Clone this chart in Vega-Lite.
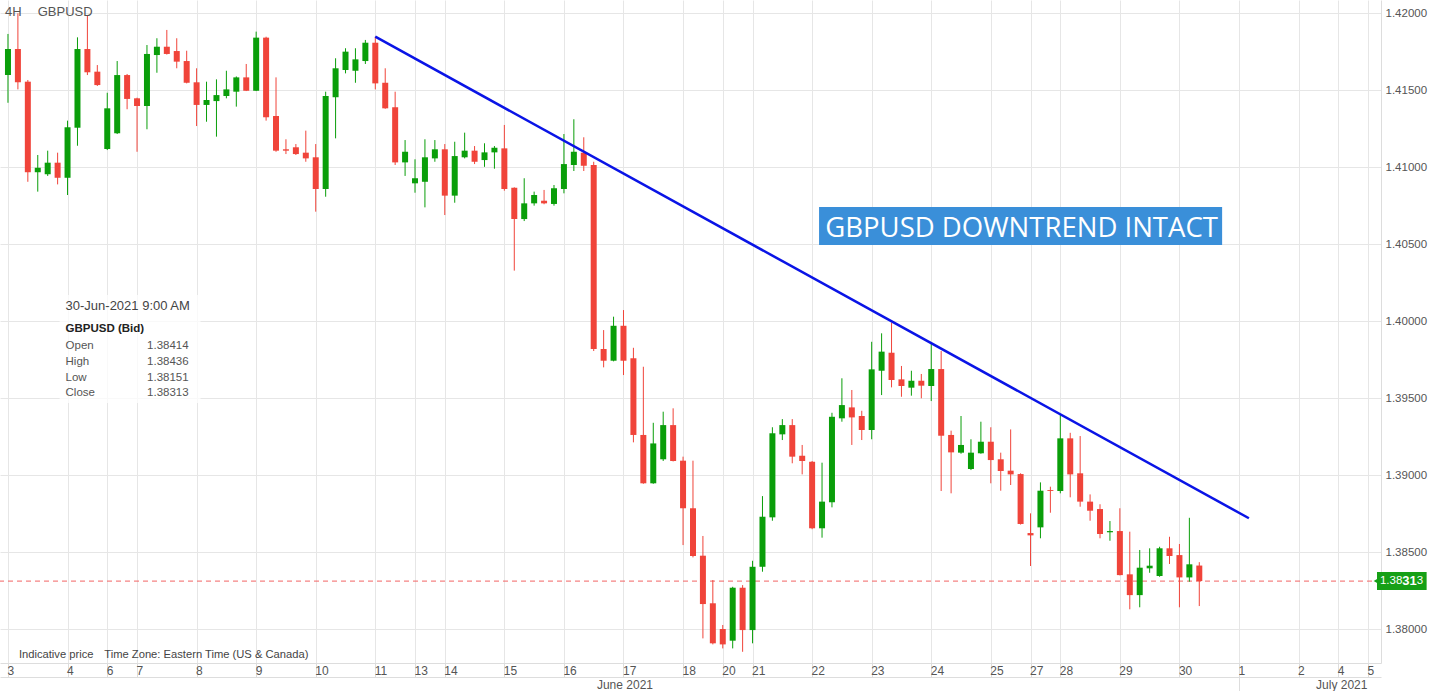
{
  "$schema": "https://vega.github.io/schema/vega-lite/v6.json",
  "width": 1381,
  "height": 663,
  "autosize": "none",
  "padding": {"left": 0, "top": 0, "right": 49, "bottom": 28},
  "background": "white",
  "config": {"view": {"stroke": null}, "font": "Liberation Sans"},
  "datasets": {
    "candles": [
      {"i":0,"o":1.41599,"h":1.41866,"l":1.41419,"c":1.41768},
      {"i":1,"o":1.41768,"h":1.42000,"l":1.41506,"c":1.41552},
      {"i":2,"o":1.41556,"h":1.41567,"l":1.40906,"c":1.40968},
      {"i":3,"o":1.40968,"h":1.41080,"l":1.40842,"c":1.40997},
      {"i":4,"o":1.40955,"h":1.41108,"l":1.40944,"c":1.41030},
      {"i":5,"o":1.41030,"h":1.41095,"l":1.40889,"c":1.40932},
      {"i":6,"o":1.40932,"h":1.41303,"l":1.40820,"c":1.41260},
      {"i":7,"o":1.41257,"h":1.41844,"l":1.41140,"c":1.41768},
      {"i":8,"o":1.41768,"h":1.41989,"l":1.41599,"c":1.41617},
      {"i":9,"o":1.41621,"h":1.41664,"l":1.41528,"c":1.41534},
      {"i":10,"o":1.41119,"h":1.41484,"l":1.41112,"c":1.41383},
      {"i":11,"o":1.41221,"h":1.41690,"l":1.41216,"c":1.41599},
      {"i":12,"o":1.41599,"h":1.41606,"l":1.41377,"c":1.41444},
      {"i":13,"o":1.41448,"h":1.41452,"l":1.41101,"c":1.41398},
      {"i":14,"o":1.41398,"h":1.41794,"l":1.41247,"c":1.41736},
      {"i":15,"o":1.41729,"h":1.41838,"l":1.41614,"c":1.41783},
      {"i":16,"o":1.41783,"h":1.41892,"l":1.41732,"c":1.41736},
      {"i":17,"o":1.41755,"h":1.41838,"l":1.41643,"c":1.41686},
      {"i":18,"o":1.41690,"h":1.41757,"l":1.41545,"c":1.41549},
      {"i":19,"o":1.41552,"h":1.41643,"l":1.41268,"c":1.41405},
      {"i":20,"o":1.41405,"h":1.41556,"l":1.41296,"c":1.41437},
      {"i":21,"o":1.41430,"h":1.41571,"l":1.41199,"c":1.41469},
      {"i":22,"o":1.41463,"h":1.41627,"l":1.41448,"c":1.41506},
      {"i":23,"o":1.41491,"h":1.41590,"l":1.41394,"c":1.41584},
      {"i":24,"o":1.41584,"h":1.41671,"l":1.41495,"c":1.41497},
      {"i":25,"o":1.41497,"h":1.41881,"l":1.41495,"c":1.41842},
      {"i":26,"o":1.41842,"h":1.41848,"l":1.41303,"c":1.41325},
      {"i":27,"o":1.41333,"h":1.41584,"l":1.41101,"c":1.41108},
      {"i":28,"o":1.41117,"h":1.41182,"l":1.41086,"c":1.41108},
      {"i":29,"o":1.41130,"h":1.41151,"l":1.41080,"c":1.41086},
      {"i":30,"o":1.41095,"h":1.41238,"l":1.41036,"c":1.41058},
      {"i":31,"o":1.41065,"h":1.41151,"l":1.40712,"c":1.40859},
      {"i":32,"o":1.40859,"h":1.41491,"l":1.40809,"c":1.41463},
      {"i":33,"o":1.41455,"h":1.41708,"l":1.41188,"c":1.41643},
      {"i":34,"o":1.41632,"h":1.41773,"l":1.41610,"c":1.41751},
      {"i":35,"o":1.41627,"h":1.41773,"l":1.41549,"c":1.41701},
      {"i":36,"o":1.41690,"h":1.41827,"l":1.41671,"c":1.41809},
      {"i":37,"o":1.41809,"h":1.41848,"l":1.41506,"c":1.41545},
      {"i":38,"o":1.41549,"h":1.41643,"l":1.41380,"c":1.41383},
      {"i":39,"o":1.41390,"h":1.41491,"l":1.41015,"c":1.41032},
      {"i":40,"o":1.41032,"h":1.41177,"l":1.40944,"c":1.41101},
      {"i":41,"o":1.40896,"h":1.41052,"l":1.40835,"c":1.40929},
      {"i":42,"o":1.40906,"h":1.41182,"l":1.40740,"c":1.41065},
      {"i":43,"o":1.41058,"h":1.41177,"l":1.41036,"c":1.41117},
      {"i":44,"o":1.41117,"h":1.41151,"l":1.40690,"c":1.40816},
      {"i":45,"o":1.40816,"h":1.41166,"l":1.40770,"c":1.41073},
      {"i":46,"o":1.41065,"h":1.41225,"l":1.41058,"c":1.41108},
      {"i":47,"o":1.41108,"h":1.41138,"l":1.41021,"c":1.41036},
      {"i":48,"o":1.41047,"h":1.41156,"l":1.41003,"c":1.41097},
      {"i":49,"o":1.41097,"h":1.41138,"l":1.40991,"c":1.41127},
      {"i":50,"o":1.41123,"h":1.41275,"l":1.40848,"c":1.40859},
      {"i":51,"o":1.40868,"h":1.40870,"l":1.40329,"c":1.40664},
      {"i":52,"o":1.40664,"h":1.40929,"l":1.40651,"c":1.40766},
      {"i":53,"o":1.40766,"h":1.40842,"l":1.40751,"c":1.40820},
      {"i":54,"o":1.40783,"h":1.40853,"l":1.40760,"c":1.40766},
      {"i":55,"o":1.40762,"h":1.40885,"l":1.40751,"c":1.40864},
      {"i":56,"o":1.40859,"h":1.41216,"l":1.40831,"c":1.41021},
      {"i":57,"o":1.41015,"h":1.41312,"l":1.40976,"c":1.41101},
      {"i":58,"o":1.41095,"h":1.41195,"l":1.40976,"c":1.41010},
      {"i":59,"o":1.41015,"h":1.41036,"l":1.39807,"c":1.39820},
      {"i":60,"o":1.39820,"h":1.39943,"l":1.39701,"c":1.39744},
      {"i":61,"o":1.39744,"h":1.40030,"l":1.39740,"c":1.39971},
      {"i":62,"o":1.39971,"h":1.40073,"l":1.39651,"c":1.39744},
      {"i":63,"o":1.39760,"h":1.39828,"l":1.39214,"c":1.39262},
      {"i":64,"o":1.39262,"h":1.39705,"l":1.38945,"c":1.38948},
      {"i":65,"o":1.38948,"h":1.39341,"l":1.38945,"c":1.39207},
      {"i":66,"o":1.39104,"h":1.39413,"l":1.39093,"c":1.39326},
      {"i":67,"o":1.39326,"h":1.39435,"l":1.39090,"c":1.39093},
      {"i":68,"o":1.39095,"h":1.39121,"l":1.38547,"c":1.38786},
      {"i":69,"o":1.38786,"h":1.39095,"l":1.38467,"c":1.38476},
      {"i":70,"o":1.38478,"h":1.38606,"l":1.37941,"c":1.38164},
      {"i":71,"o":1.38169,"h":1.38320,"l":1.37902,"c":1.37909},
      {"i":72,"o":1.38002,"h":1.38028,"l":1.37876,"c":1.37902},
      {"i":73,"o":1.37926,"h":1.38276,"l":1.37876,"c":1.38270},
      {"i":74,"o":1.38270,"h":1.38287,"l":1.37854,"c":1.37995},
      {"i":75,"o":1.37995,"h":1.38445,"l":1.37909,"c":1.38406},
      {"i":76,"o":1.38406,"h":1.38865,"l":1.38374,"c":1.38731},
      {"i":77,"o":1.38727,"h":1.39312,"l":1.38705,"c":1.39273},
      {"i":78,"o":1.39266,"h":1.39365,"l":1.39229,"c":1.39326},
      {"i":79,"o":1.39326,"h":1.39365,"l":1.39078,"c":1.39121},
      {"i":80,"o":1.39127,"h":1.39197,"l":1.39006,"c":1.39093},
      {"i":81,"o":1.39088,"h":1.39093,"l":1.38650,"c":1.38656},
      {"i":82,"o":1.38656,"h":1.39082,"l":1.38595,"c":1.38829},
      {"i":83,"o":1.38825,"h":1.39406,"l":1.38792,"c":1.39380},
      {"i":84,"o":1.39370,"h":1.39630,"l":1.39348,"c":1.39456},
      {"i":85,"o":1.39441,"h":1.39554,"l":1.39197,"c":1.39376},
      {"i":86,"o":1.39385,"h":1.39419,"l":1.39229,"c":1.39294},
      {"i":87,"o":1.39294,"h":1.39867,"l":1.39234,"c":1.39688},
      {"i":88,"o":1.39679,"h":1.39922,"l":1.39521,"c":1.39803},
      {"i":89,"o":1.39796,"h":1.39991,"l":1.39571,"c":1.39619},
      {"i":90,"o":1.39623,"h":1.39710,"l":1.39510,"c":1.39580},
      {"i":91,"o":1.39569,"h":1.39679,"l":1.39517,"c":1.39614},
      {"i":92,"o":1.39614,"h":1.39658,"l":1.39500,"c":1.39582},
      {"i":93,"o":1.39580,"h":1.39857,"l":1.39482,"c":1.39690},
      {"i":94,"o":1.39690,"h":1.39807,"l":1.38898,"c":1.39257},
      {"i":95,"o":1.39262,"h":1.39290,"l":1.38883,"c":1.39149},
      {"i":96,"o":1.39147,"h":1.39385,"l":1.39140,"c":1.39197},
      {"i":97,"o":1.39041,"h":1.39234,"l":1.39034,"c":1.39147},
      {"i":98,"o":1.39143,"h":1.39348,"l":1.39140,"c":1.39218},
      {"i":99,"o":1.39218,"h":1.39312,"l":1.38948,"c":1.39099},
      {"i":100,"o":1.39104,"h":1.39147,"l":1.38900,"c":1.39028},
      {"i":101,"o":1.39030,"h":1.39298,"l":1.38937,"c":1.39006},
      {"i":102,"o":1.39008,"h":1.39013,"l":1.38680,"c":1.38684},
      {"i":103,"o":1.38625,"h":1.38753,"l":1.38411,"c":1.38610},
      {"i":104,"o":1.38662,"h":1.38954,"l":1.38591,"c":1.38900},
      {"i":105,"o":1.38904,"h":1.38926,"l":1.38757,"c":1.38898},
      {"i":106,"o":1.38898,"h":1.39391,"l":1.38883,"c":1.39240},
      {"i":107,"o":1.39240,"h":1.39276,"l":1.38857,"c":1.39006},
      {"i":108,"o":1.39013,"h":1.39255,"l":1.38796,"c":1.38829},
      {"i":109,"o":1.38829,"h":1.38876,"l":1.38705,"c":1.38770},
      {"i":110,"o":1.38781,"h":1.38812,"l":1.38591,"c":1.38619},
      {"i":111,"o":1.38630,"h":1.38703,"l":1.38575,"c":1.38638},
      {"i":112,"o":1.38638,"h":1.38786,"l":1.38350,"c":1.38352},
      {"i":113,"o":1.38357,"h":1.38634,"l":1.38130,"c":1.38222},
      {"i":114,"o":1.38222,"h":1.38515,"l":1.38143,"c":1.38400},
      {"i":115,"o":1.38396,"h":1.38526,"l":1.38367,"c":1.38413},
      {"i":116,"o":1.38346,"h":1.38536,"l":1.38341,"c":1.38526},
      {"i":117,"o":1.38526,"h":1.38601,"l":1.38424,"c":1.38476},
      {"i":118,"o":1.38482,"h":1.38554,"l":1.38143,"c":1.38337},
      {"i":119,"o":1.38337,"h":1.38724,"l":1.38309,"c":1.38422},
      {"i":120,"o":1.38414,"h":1.38436,"l":1.38151,"c":1.38313}
    ],
    "trend": [
      {"i": 37, "price": 1.41848},
      {"i": 125, "price": 1.38721}
    ],
    "last": [
      {"price": 1.38313, "label": "1.38313", "head": "1.38", "pips": "31", "tail": "3"}
    ]
  },
  "resolve": {"axis": {"x": "independent"}},
  "layer": [
    {
      "data": {"name": "last"},
      "mark": {"type": "rule", "color": "#f26464", "strokeDash": [5, 4], "strokeWidth": 1},
      "encoding": {
        "y": {"field": "price", "type": "quantitative", "scale": {"domain": [1.377812, 1.420864], "nice": false, "zero": false},
          "axis": {
            "orient": "right",
            "values": [1.38, 1.385, 1.39, 1.395, 1.40, 1.405, 1.41, 1.415, 1.42],
            "format": ".5f", "title": null, "grid": true, "gridColor": "#e6e6e6",
            "ticks": false, "domain": true, "domainColor": "#dddddd",
            "labelPadding": 4, "labelFontSize": 11.5, "labelColor": "#555555", "labelFont": "Liberation Sans",
            "labelBaseline": "middle", "labelFlush": false, "labelOverlap": false, "labelBound": false
          }
        }
      }
    },
    {
      "data": {"name": "candles"},
      "mark": {"type": "rule", "strokeWidth": 1},
      "encoding": {
        "x": {"field": "i", "type": "quantitative", "scale": {"domain": [-0.3, 137.8], "nice": false, "zero": false},
          "axis": {
            "orient": "bottom",
            "values": [0,6,10,13,19,25,31,37,41,44,50,56,62,68,72,75,81,87,93,99,103,106,112,118,124,130,134,137],
            "labelExpr": "['3','4','6','7','8','9','10','11','13','14','15','16','17','18','20','21','22','23','24','25','27','28','29','30','1','2','4','5'][indexof([0,6,10,13,19,25,31,37,41,44,50,56,62,68,72,75,81,87,93,99,103,106,112,118,124,130,134,137], datum.value)]",
            "title": null, "grid": true, "gridColor": "#e6e6e6", "gridWidth": 1,
            "ticks": true, "tickSize": 14, "tickColor": "#dddddd",
            "domain": true, "domainColor": "#dddddd",
            "labelAlign": "left", "labelBaseline": "middle", "labelPadding": -7, "labelOffset": -1,
            "labelFontSize": 12, "labelColor": "#555555", "labelFont": "Liberation Sans",
            "labelFlush": false, "labelOverlap": false, "labelBound": false
          }
        },
        "y": {"field": "l", "type": "quantitative", "scale": {"domain": [1.377812, 1.420864], "nice": false, "zero": false}},
        "y2": {"field": "h"},
        "color": {"condition": {"test": "datum.c >= datum.o", "value": "#0a9e0a"}, "value": "#f0443a"}
      }
    },
    {
      "data": {"name": "candles"},
      "mark": {"type": "bar", "size": 6},
      "encoding": {
        "x": {"field": "i", "type": "quantitative", "scale": {"domain": [-0.3, 137.8], "nice": false, "zero": false}, "axis": null},
        "y": {"field": "o", "type": "quantitative", "scale": {"domain": [1.377812, 1.420864], "nice": false, "zero": false}},
        "y2": {"field": "c"},
        "color": {"condition": {"test": "datum.c >= datum.o", "value": "#0a9e0a"}, "value": "#f0443a"}
      }
    },
    {
      "data": {"name": "trend"},
      "mark": {"type": "line", "color": "#0a14e6", "strokeWidth": 2.5},
      "encoding": {
        "x": {"field": "i", "type": "quantitative", "scale": {"domain": [-0.3, 137.8], "nice": false, "zero": false},
          "axis": {
            "orient": "bottom",
            "values": [62.1, 124, 134.3],
            "labelExpr": "datum.value == 124 ? '' : (datum.value < 100 ? 'June 2021' : 'July 2021')",
            "title": null, "grid": false, "offset": 14,
            "ticks": true, "tickSize": 14,
            "tickColor": {"condition": {"test": "datum.value == 124", "value": "#dddddd"}, "value": "transparent"},
            "domain": true, "domainColor": "#dddddd",
            "labelAlign": "center", "labelBaseline": "middle", "labelPadding": -7,
            "labelFontSize": 12, "labelColor": "#555555", "labelFont": "Liberation Sans",
            "labelFlush": false, "labelOverlap": false, "labelBound": false
          }
        },
        "y": {"field": "price", "type": "quantitative", "scale": {"domain": [1.377812, 1.420864], "nice": false, "zero": false}}
      }
    },
    {
      "data": {"values": [{"label": "GBPUSD DOWNTREND INTACT"}]},
      "mark": {"type": "rect", "color": "#3a8fd9"},
      "encoding": {
        "x": {"datum": 81.7, "type": "quantitative", "scale": {"domain": [-0.3, 137.8], "nice": false, "zero": false}, "axis": null},
        "x2": {"datum": 122.3},
        "y": {"datum": 1.40742, "type": "quantitative", "scale": {"domain": [1.377812, 1.420864], "nice": false, "zero": false}},
        "y2": {"datum": 1.40495}
      }
    },
    {
      "data": {"values": [{"label": "GBPUSD DOWNTREND INTACT"}]},
      "mark": {"type": "text", "color": "white", "font": "Open Sans", "fontSize": 27.5, "align": "center", "baseline": "middle"},
      "encoding": {
        "x": {"datum": 102.1, "type": "quantitative", "scale": {"domain": [-0.3, 137.8], "nice": false, "zero": false}, "axis": null},
        "y": {"datum": 1.40600, "type": "quantitative", "scale": {"domain": [1.377812, 1.420864], "nice": false, "zero": false}},
        "text": {"field": "label"}
      }
    },
    {
      "data": {"values": [{"label": "4H", "pos": -0.3}, {"label": "GBPUSD", "pos": 3.0}]},
      "mark": {"type": "text", "color": "#555555", "fontSize": 13, "align": "left", "baseline": "middle"},
      "encoding": {
        "x": {"field": "pos", "type": "quantitative", "scale": {"domain": [-0.3, 137.8], "nice": false, "zero": false}, "axis": null},
        "y": {"datum": 1.420085, "type": "quantitative", "scale": {"domain": [1.377812, 1.420864], "nice": false, "zero": false}},
        "text": {"field": "label"}
      }
    },
    {
      "data": {"values": [{"label": "Indicative price", "pos": 1.1}, {"label": "Time Zone: Eastern Time (US & Canada)", "pos": 9.7}]},
      "mark": {"type": "text", "color": "#444444", "fontSize": 11.2, "align": "left", "baseline": "middle"},
      "encoding": {
        "x": {"field": "pos", "type": "quantitative", "scale": {"domain": [-0.3, 137.8], "nice": false, "zero": false}, "axis": null},
        "y": {"datum": 1.37833, "type": "quantitative", "scale": {"domain": [1.377812, 1.420864], "nice": false, "zero": false}},
        "text": {"field": "label"}
      }
    },
    {
      "data": {"values": [{}]},
      "mark": {"type": "rect", "color": "white", "opacity": 0.75},
      "encoding": {
        "x": {"datum": 5.2, "type": "quantitative", "scale": {"domain": [-0.3, 137.8], "nice": false, "zero": false}, "axis": null},
        "x2": {"datum": 19.4},
        "y": {"datum": 1.40171, "type": "quantitative", "scale": {"domain": [1.377812, 1.420864], "nice": false, "zero": false}},
        "y2": {"datum": 1.39469}
      }
    },
    {
      "data": {"values": [{"label": "30-Jun-2021 9:00 AM"}]},
      "mark": {"type": "text", "color": "#444444", "fontSize": 13, "align": "left", "baseline": "middle"},
      "encoding": {
        "x": {"datum": 5.8, "type": "quantitative", "scale": {"domain": [-0.3, 137.8], "nice": false, "zero": false}, "axis": null},
        "y": {"datum": 1.40099, "type": "quantitative", "scale": {"domain": [1.377812, 1.420864], "nice": false, "zero": false}},
        "text": {"field": "label"}
      }
    },
    {
      "data": {"values": [{"label": "GBPUSD (Bid)"}]},
      "mark": {"type": "text", "color": "#222222", "fontSize": 11.5, "fontWeight": "bold", "align": "left", "baseline": "middle"},
      "encoding": {
        "x": {"datum": 5.8, "type": "quantitative", "scale": {"domain": [-0.3, 137.8], "nice": false, "zero": false}, "axis": null},
        "y": {"datum": 1.39950, "type": "quantitative", "scale": {"domain": [1.377812, 1.420864], "nice": false, "zero": false}},
        "text": {"field": "label"}
      }
    },
    {
      "data": {"values": [{"label": "Open", "value": "1.38414", "price": 1.39840}, {"label": "High", "value": "1.38436", "price": 1.39736}, {"label": "Low", "value": "1.38151", "price": 1.39632}, {"label": "Close", "value": "1.38313", "price": 1.39534}]},
      "layer": [
        {
          "mark": {"type": "text", "color": "#555555", "fontSize": 11.5, "align": "left", "baseline": "middle"},
          "encoding": {
            "x": {"datum": 5.8, "type": "quantitative", "scale": {"domain": [-0.3, 137.8], "nice": false, "zero": false}, "axis": null},
            "y": {"field": "price", "type": "quantitative", "scale": {"domain": [1.377812, 1.420864], "nice": false, "zero": false}},
            "text": {"field": "label"}
          }
        },
        {
          "mark": {"type": "text", "color": "#555555", "fontSize": 11.5, "align": "right", "baseline": "middle"},
          "encoding": {
            "x": {"datum": 18.2, "type": "quantitative", "scale": {"domain": [-0.3, 137.8], "nice": false, "zero": false}, "axis": null},
            "y": {"field": "price", "type": "quantitative", "scale": {"domain": [1.377812, 1.420864], "nice": false, "zero": false}},
            "text": {"field": "value"}
          }
        }
      ]
    },
    {
      "data": {"name": "last"},
      "mark": {"type": "rect", "color": "#16a016"},
      "encoding": {
        "x": {"datum": 137.9, "type": "quantitative", "scale": {"domain": [-0.3, 137.8], "nice": false, "zero": false}, "axis": null},
        "x2": {"datum": 142.9},
        "y": {"datum": 1.38372, "type": "quantitative", "scale": {"domain": [1.377812, 1.420864], "nice": false, "zero": false}},
        "y2": {"datum": 1.38255}
      }
    },
    {
      "data": {"name": "last"},
      "mark": {"type": "point", "shape": "triangle-left", "filled": true, "size": 30, "color": "#16a016", "opacity": 1},
      "encoding": {
        "x": {"datum": 137.8, "type": "quantitative", "scale": {"domain": [-0.3, 137.8], "nice": false, "zero": false}, "axis": null},
        "y": {"field": "price", "type": "quantitative", "scale": {"domain": [1.377812, 1.420864], "nice": false, "zero": false}}
      }
    },
    {
      "data": {"name": "last"},
      "mark": {"type": "text", "color": "white", "fontSize": 11.5, "align": "right", "baseline": "middle"},
      "encoding": {
        "x": {"datum": 140.45, "type": "quantitative", "scale": {"domain": [-0.3, 137.8], "nice": false, "zero": false}, "axis": null},
        "y": {"field": "price", "type": "quantitative", "scale": {"domain": [1.377812, 1.420864], "nice": false, "zero": false}},
        "text": {"field": "head"}
      }
    },
    {
      "data": {"name": "last"},
      "mark": {"type": "text", "color": "white", "fontSize": 13, "fontWeight": "bold", "align": "left", "baseline": "middle"},
      "encoding": {
        "x": {"datum": 140.45, "type": "quantitative", "scale": {"domain": [-0.3, 137.8], "nice": false, "zero": false}, "axis": null},
        "y": {"field": "price", "type": "quantitative", "scale": {"domain": [1.377812, 1.420864], "nice": false, "zero": false}},
        "text": {"field": "pips"}
      }
    },
    {
      "data": {"name": "last"},
      "mark": {"type": "text", "color": "white", "fontSize": 11.5, "align": "left", "baseline": "middle"},
      "encoding": {
        "x": {"datum": 141.9, "type": "quantitative", "scale": {"domain": [-0.3, 137.8], "nice": false, "zero": false}, "axis": null},
        "y": {"field": "price", "type": "quantitative", "scale": {"domain": [1.377812, 1.420864], "nice": false, "zero": false}},
        "text": {"field": "tail"}
      }
    }
  ]
}
